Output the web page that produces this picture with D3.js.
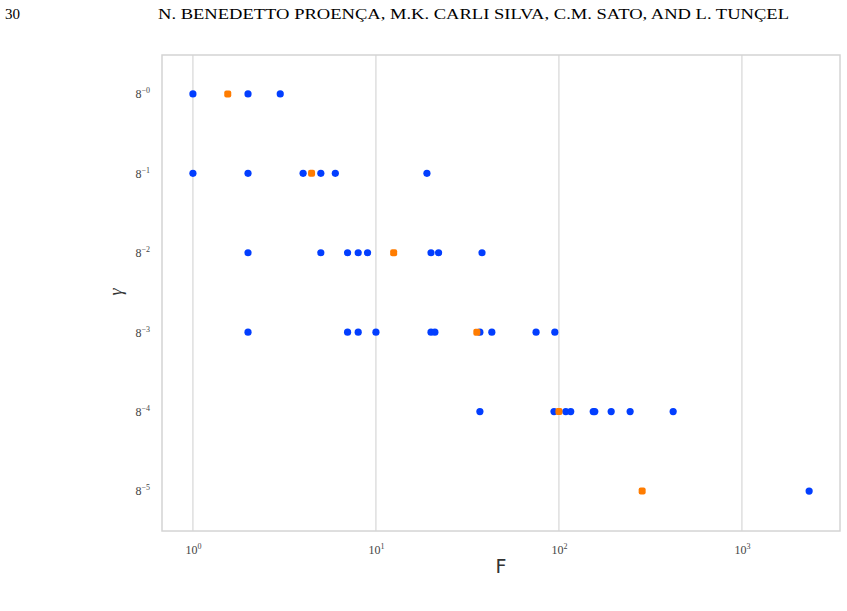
<!DOCTYPE html>
<html>
<head>
<meta charset="utf-8">
<script src="https://cdn.jsdelivr.net/npm/d3@7"></script>
<style>
  body { margin: 0; background: #fff; }
  svg { display: block; }
</style>
</head>
<body>
<div id="chart"></div>
<script>
// gamma exponents (gamma = 8^exp) and F values
var blueF = [1, 2, 3,
             1, 2, 4, 5, 6, 19,
             2, 5, 7, 8, 9, 20, 22, 38,
             2, 7, 8, 10, 20, 21, 37, 43, 75, 95,
             37, 94, 109, 116, 154, 157, 193, 245, 421,
             2330];
var blueExp = [0, 0, 0,
               -1, -1, -1, -1, -1, -1,
               -2, -2, -2, -2, -2, -2, -2, -2,
               -3, -3, -3, -3, -3, -3, -3, -3, -3, -3,
               -4, -4, -4, -4, -4, -4, -4, -4, -4,
               -5];
var orangeF = [1.55, 4.45, 12.5, 35.6, 100, 285];
var orangeExp = [0, -1, -2, -3, -4, -5];

var yTicks = [0, -1, -2, -3, -4, -5];
var xTicks = [0, 1, 2, 3];

var W = 847, H = 611;
var plot = {left: 162, right: 840, top: 55, bottom: 531};

var svg = d3.select("#chart").append("svg")
    .attr("width", W)
    .attr("height", H);

// page header
svg.append("text")
    .attr("x", 5).attr("y", 19)
    .style("font-family", "Liberation Serif, serif")
    .style("font-size", "15px")
    .text("30");
svg.append("text")
    .attr("x", 158).attr("y", 19)
    .attr("textLength", 631)
    .attr("lengthAdjust", "spacingAndGlyphs")
    .style("font-family", "Liberation Serif, serif")
    .style("font-size", "15px")
    .text("N. BENEDETTO PROENÇA, M.K. CARLI SILVA, C.M. SATO, AND L. TUNÇEL");

var x = d3.scaleLog()
    .domain([Math.pow(10, -0.169), Math.pow(10, 3.536)])
    .range([plot.left, plot.right]);

var y = d3.scaleLog()
    .base(8)
    .domain([Math.pow(8, -5.503), Math.pow(8, 0.49)])
    .range([plot.bottom, plot.top]);

// vertical grid
svg.append("g")
  .selectAll("line")
  .data(xTicks)
  .enter()
  .append("line")
    .attr("x1", function(d) { return x(Math.pow(10, d)); })
    .attr("x2", function(d) { return x(Math.pow(10, d)); })
    .attr("y1", plot.top)
    .attr("y2", plot.bottom)
    .style("stroke", "#d6d6d6")
    .style("stroke-width", 1.2);

// frame
svg.append("rect")
    .attr("x", plot.left).attr("y", plot.top)
    .attr("width", plot.right - plot.left).attr("height", plot.bottom - plot.top)
    .style("fill", "none")
    .style("stroke", "#d4d4d4")
    .style("stroke-width", 1.5);

// axes
var xAxis = d3.axisBottom(x)
    .tickValues(xTicks.map(function(d) { return Math.pow(10, d); }))
    .tickSize(0)
    .tickFormat(function() { return ""; });

var gx = svg.append("g")
    .attr("transform", "translate(0," + plot.bottom + ")")
    .call(xAxis);
gx.select(".domain").remove();
gx.selectAll(".tick text")
    .data(xTicks)
    .attr("y", 14)
    .style("font-family", "Liberation Serif, serif")
    .style("font-size", "12px")
    .style("fill", "#444")
    .each(function(d) {
      var t = d3.select(this);
      t.append("tspan").text("10");
      t.append("tspan").attr("dy", -5).style("font-size", "8px").text(d);
    });

var yAxis = d3.axisLeft(y)
    .tickValues(yTicks.map(function(d) { return Math.pow(8, d); }))
    .tickSize(0)
    .tickPadding(12)
    .tickFormat(function() { return ""; });

var gy = svg.append("g")
    .attr("transform", "translate(" + plot.left + ",0)")
    .call(yAxis);
gy.select(".domain").remove();
gy.selectAll(".tick text")
    .data(yTicks)
    .style("font-family", "Liberation Serif, serif")
    .style("font-size", "12px")
    .style("fill", "#444")
    .each(function(d) {
      var t = d3.select(this);
      t.append("tspan").text("8");
      t.append("tspan").attr("dy", -5).style("font-size", "8px").text("\u2212" + Math.abs(d));
    });

// axis labels
svg.append("text")
    .attr("x", (plot.left + plot.right) / 2)
    .attr("y", 573)
    .attr("text-anchor", "middle")
    .style("font-family", "DejaVu Sans, sans-serif")
    .style("font-size", "19px")
    .style("fill", "#333")
    .text("F");

svg.append("text")
    .attr("transform", "translate(122,292) rotate(-90)")
    .attr("text-anchor", "middle")
    .style("font-family", "Liberation Serif, serif")
    .style("font-style", "italic")
    .style("font-size", "18px")
    .style("fill", "#333")
    .text("\u03b3");

// points
var blue = blueF.map(function(f, i) { return {f: f, e: blueExp[i]}; });
var orange = orangeF.map(function(f, i) { return {f: f, e: orangeExp[i]}; });

svg.append("g")
  .selectAll("circle")
  .data(blue)
  .enter()
  .append("circle")
    .attr("cx", function(d) { return x(d.f); })
    .attr("cy", function(d) { return y(Math.pow(8, d.e)); })
    .attr("r", 3.6)
    .style("fill", "#023eff");

svg.append("g")
  .selectAll("rect")
  .data(orange)
  .enter()
  .append("rect")
    .attr("x", function(d) { return x(d.f) - 3.5; })
    .attr("y", function(d) { return y(Math.pow(8, d.e)) - 3.5; })
    .attr("width", 7)
    .attr("height", 7)
    .attr("rx", 2)
    .style("fill", "#ff7c00");
</script>
</body>
</html>
